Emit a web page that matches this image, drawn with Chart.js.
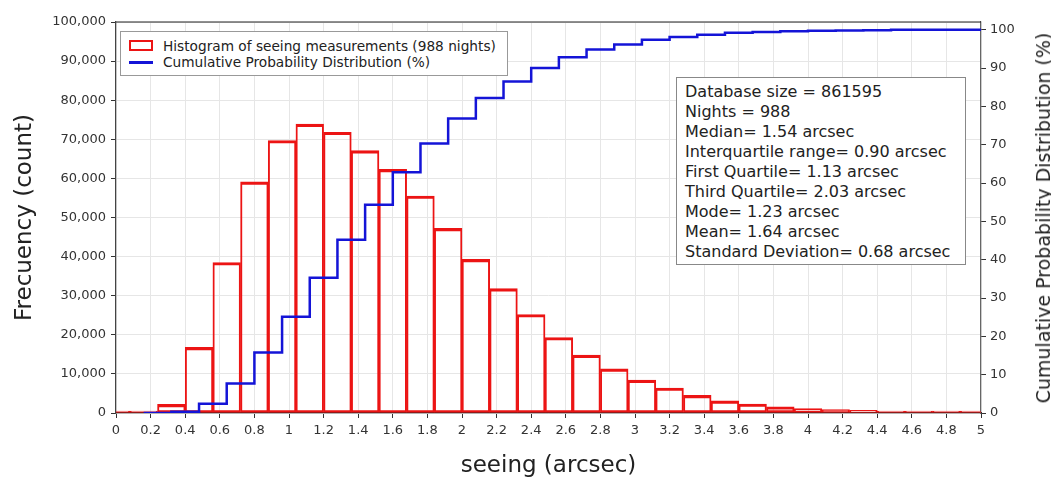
<!DOCTYPE html>
<html lang="en">

<head>
    <meta charset="UTF-8">
    <title>Seeing histogram</title>

    <script src="https://cdn.jsdelivr.net/npm/chart.js"></script>

    <style>
        body {
            margin: 0;
            background: #fff;
            font-family: 'DejaVu Sans', sans-serif;
            color: #222;
        }

        #wrap {
            position: relative;
            width: 1051px;
            height: 480px;
        }

        /* legend box, top left inside the plot */
        #legend {
            position: absolute;
            left: 120px;
            top: 31px;
            width: 386px;
            height: 43px;
            border: 1px solid #999;
            background: #fff;
            font-size: 13.7px;
        }

        .leg_item {
            position: absolute;
            left: 42px;
            white-space: nowrap;
            line-height: 16px;
        }

        #leg_rect {
            position: absolute;
            left: 8px;
            top: 8px;
            width: 20px;
            height: 7px;
            border: 2px solid rgb(236, 20, 20);
        }

        #leg_line {
            position: absolute;
            left: 8px;
            top: 29px;
            width: 24px;
            height: 2.5px;
            background: rgb(20, 20, 215);
        }

        /* statistics box */
        #stats {
            position: absolute;
            left: 676px;
            top: 77px;
            width: 280px;
            height: 182px;
            padding: 4px 0 0 8px;
            border: 1px solid #888;
            background: #fff;
            font-size: 16px;
            line-height: 20px;
            white-space: nowrap;
        }

        #y2_title {
            position: absolute;
            left: 1043px;
            top: 218px;
            transform: translate(-50%, -50%) rotate(-90deg);
            white-space: nowrap;
            font-size: 19px;
            color: #222;
        }
    </style>
</head>

<body>
    <div id="wrap">
        <canvas id="grafico" width="1051" height="480"></canvas>

        <div id="legend">
            <div id="leg_rect"></div>
            <div class="leg_item" style="top: 6px;">Histogram of seeing measurements (988 nights)</div>
            <div id="leg_line"></div>
            <div class="leg_item" style="top: 22px;">Cumulative Probability Distribution (%)</div>
        </div>

        <div id="stats">
            Database size = 861595<br>
            Nights = 988<br>
            Median= 1.54 arcsec<br>
            Interquartile range= 0.90 arcsec<br>
            First Quartile= 1.13 arcsec<br>
            Third Quartile= 2.03 arcsec<br>
            Mode= 1.23 arcsec<br>
            Mean= 1.64 arcsec<br>
            Standard Deviation= 0.68 arcsec
        </div>

        <div id="y2_title">Cumulative Probability Distribution (%)</div>
    </div>
</body>

<script>
    // bin centres (arcsec), bins are 0.16 wide
    var bin_centers = [0, 0.16, 0.32, 0.48, 0.64, 0.80, 0.96, 1.12, 1.28, 1.44, 1.60, 1.76, 1.92, 2.08, 2.24, 2.40,
        2.56, 2.72, 2.88, 3.04, 3.20, 3.36, 3.52, 3.68, 3.84, 4.00, 4.16, 4.32, 4.48, 4.64, 4.80, 4.96];

    // measurements per bin
    var counts = [0, 0, 2200, 16800, 38500, 59100, 69700, 73900, 71800, 67100, 62300, 55500, 47200, 39300, 31800, 25200,
        19300, 14800, 11300, 8400, 6400, 4500, 3100, 2300, 1600, 1100, 900, 700, 450, 350, 270, 180];

    // cumulative distribution (%), stepped at the bin centres
    var cdf_x = [0.16, 0.32, 0.48, 0.64, 0.80, 0.96, 1.12, 1.28, 1.44, 1.60, 1.76, 1.92, 2.08, 2.24, 2.40, 2.56,
        2.72, 2.88, 3.04, 3.20, 3.36, 3.52, 3.68, 3.84, 4.00, 4.16, 4.32, 4.48, 4.64, 4.80, 4.96, 5.12];
    var cdf_pct = [0, 0.3, 2.4, 7.7, 15.8, 25.1, 35.3, 45.2, 54.3, 62.8, 70.3, 76.8, 82.2, 86.5, 90.0, 92.8,
        94.8, 96.1, 97.4, 98.1, 98.7, 99.2, 99.4, 99.6, 99.75, 99.8, 99.85, 99.95, 100, 100, 100, 100];

    var fonte = 'DejaVu Sans';
    var vermelho = 'rgb(236, 20, 20)';
    var azul = 'rgb(20, 20, 215)';

    var hist_data = [];
    for (var i = 0; i < bin_centers.length; i++) {
        hist_data.push({ x: bin_centers[i], y: counts[i] });
    }
    var cdf_data = [];
    for (var j = 0; j < cdf_x.length; j++) {
        cdf_data.push({ x: cdf_x[j], y: cdf_pct[j] });
    }

    // black line on top of the plot area
    var moldura = {
        id: 'moldura',
        afterDraw: function (chart) {
            var a = chart.chartArea;
            var ctx = chart.ctx;
            ctx.save();
            ctx.strokeStyle = '#222';
            ctx.lineWidth = 1.2;
            ctx.beginPath();
            ctx.moveTo(a.left, a.top);
            ctx.lineTo(a.right, a.top);
            ctx.stroke();
            ctx.restore();
        }
    };

    var ctx = document.getElementById('grafico').getContext('2d');
    var grafico = new Chart(ctx, {
        type: 'bar',
        data: {
            datasets: [{
                label: 'Histogram of seeing measurements (988 nights)',
                data: hist_data,
                backgroundColor: 'rgba(0,0,0,0)',
                borderColor: vermelho,
                borderWidth: { top: 2.5, bottom: 2, left: 1.3, right: 1.3 },
                borderSkipped: false,
                minBarLength: 2,
                barPercentage: 1,
                categoryPercentage: 1,
                yAxisID: 'y',
                order: 2
            }, {
                type: 'line',
                label: 'Cumulative Probability Distribution (%)',
                data: cdf_data,
                borderColor: azul,
                borderWidth: 2.5,
                pointRadius: 0,
                stepped: true,
                fill: false,
                yAxisID: 'y2',
                order: 1
            }]
        },
        options: {
            responsive: false,
            animation: false,
            devicePixelRatio: 1,
            layout: { padding: { top: 22, left: 0, right: 0, bottom: 0 } },
            plugins: {
                legend: { display: false },
                tooltip: { enabled: false }
            },
            scales: {
                x: {
                    type: 'linear',
                    min: 0,
                    max: 5,
                    offset: false,
                    grid: { offset: false, color: '#e6e6e6', tickColor: '#333', tickLength: 5 },
                    border: { color: '#222', width: 1.2 },
                    ticks: {
                        stepSize: 0.2,
                        autoSkip: false,
                        maxRotation: 0,
                        padding: 5,
                        color: '#333',
                        font: { family: fonte, size: 13 },
                        callback: function (v) { return String(Number(v.toFixed(1))); }
                    },
                    title: {
                        display: true,
                        text: 'seeing (arcsec)',
                        color: '#222',
                        font: { family: fonte, size: 23 },
                        padding: { top: 0, bottom: 0 }
                    },
                    afterFit: function (scale) { scale.height = 67; }
                },
                y: {
                    position: 'left',
                    min: 0,
                    max: 100000,
                    grid: { color: '#e6e6e6', tickColor: '#333', tickLength: 5 },
                    border: { color: '#444', width: 1.2 },
                    ticks: {
                        stepSize: 10000,
                        padding: 5,
                        color: '#333',
                        font: { family: fonte, size: 13 },
                        callback: function (v) { return v.toLocaleString('en-US'); }
                    },
                    title: {
                        display: true,
                        text: 'Frecuency (count)',
                        color: '#222',
                        font: { family: fonte, size: 23 },
                        padding: { top: 11, bottom: 0 }
                    },
                    afterFit: function (scale) { scale.width = 116; }
                },
                y2: {
                    position: 'right',
                    min: 0,
                    max: 102,
                    grid: { drawOnChartArea: false, tickColor: '#333', tickLength: 5 },
                    border: { color: '#666', width: 1.2 },
                    ticks: {
                        stepSize: 10,
                        includeBounds: false,
                        padding: 4,
                        color: '#333',
                        font: { family: fonte, size: 13 }
                    },
                    afterFit: function (scale) { scale.width = 70; }
                }
            }
        },
        plugins: [moldura]
    });
</script>

</html>
